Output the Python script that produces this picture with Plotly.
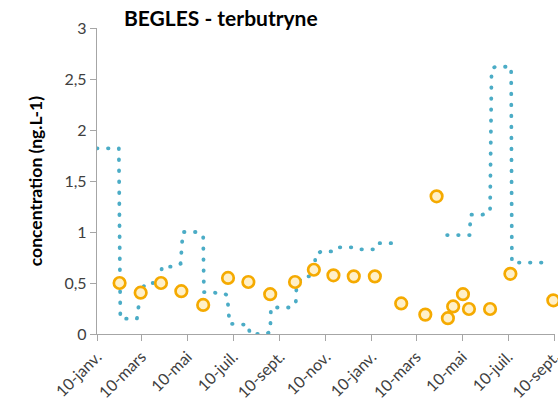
import plotly.graph_objects as go

# Continuous (time-weighted) concentration, drawn as a dotted line; None = gap
line_dates = [
    "2013-01-10", "2013-02-08", "2013-02-10", "2013-03-04", "2013-03-09", "2013-03-16",
    "2013-04-05", "2013-04-06", "2013-04-22", "2013-05-01", "2013-05-04", "2013-05-21",
    "2013-05-31", "2013-06-01", "2013-06-27", "2013-07-02", "2013-07-05", "2013-07-30",
    "2013-08-01", "2013-08-22", "2013-08-28", "2013-08-29", "2013-09-24", "2013-10-01",
    "2013-10-02", "2013-10-10", "2013-10-26", "2013-10-27", "2013-11-04", "2013-11-23",
    "2013-11-28", "2013-12-15", "2013-12-22", "2014-01-12", "2014-01-16", "2014-02-17",
    None,
    "2014-04-20", "2014-05-20", "2014-05-21", "2014-06-06", "2014-06-16", "2014-06-18",
    "2014-06-23", "2014-07-14", "2014-07-15", "2014-08-28",
]
line_values = [
    1.82, 1.82, 0.15, 0.15, 0.42, 0.50,
    0.50, 0.66, 0.66, 0.69, 1.00, 1.00,
    0.97, 0.41, 0.40, 0.38, 0.10, 0.09,
    0.00, 0.00, 0.02, 0.26, 0.26, 0.30,
    0.48, 0.565, 0.565, 0.78, 0.81, 0.81,
    0.85, 0.85, 0.83, 0.83, 0.89, 0.89,
    None,
    0.97, 0.97, 1.17, 1.17, 1.20, 2.60,
    2.62, 2.62, 0.70, 0.70,
]

# Spot (grab) samples
spot_dates = [
    "2013-02-09", "2013-03-09", "2013-04-05", "2013-05-02", "2013-05-31", "2013-07-03",
    "2013-07-30", "2013-08-28", "2013-09-30", "2013-10-25", "2013-11-20", "2013-12-17",
    "2014-01-14", "2014-02-18", "2014-03-22", "2014-04-06", "2014-04-21", "2014-04-28",
    "2014-05-11", "2014-05-19", "2014-06-16", "2014-07-13", "2014-09-08",
]
spot_values = [
    0.50, 0.405, 0.50, 0.42, 0.285, 0.55,
    0.51, 0.39, 0.51, 0.63, 0.575, 0.565,
    0.565, 0.30, 0.19, 1.35, 0.155, 0.27,
    0.39, 0.245, 0.245, 0.59, 0.33,
]

tick_dates = [
    "2013-01-10", "2013-03-10", "2013-05-10", "2013-07-10", "2013-09-10", "2013-11-10",
    "2014-01-10", "2014-03-10", "2014-05-10", "2014-07-10", "2014-09-10",
]
tick_labels = [
    "10-janv.", "10-mars", "10-mai", "10-juil.", "10-sept.", "10-nov.",
    "10-janv.", "10-mars", "10-mai", "10-juil.", "10-sept.",
]
y_ticks = [0, 0.5, 1, 1.5, 2, 2.5, 3]
y_labels = ["0", "0,5", "1", "1,5", "2", "2,5", "3"]

FONT = "Lato, 'Open Sans', sans-serif"
AXIS_GREY = "#a6a6a6"
TEXT_GREY = "#404040"

fig = go.Figure()
fig.add_trace(go.Scatter(
    x=line_dates, y=line_values, mode="lines",
    line=dict(color="#4bacc6", width=3.8, dash="0.5px,10.5px"),
    connectgaps=False, hoverinfo="skip", showlegend=False,
))
fig.add_trace(go.Scatter(
    x=spot_dates, y=spot_values, mode="markers",
    marker=dict(symbol="circle", size=11.5, color="#fff0c8",
                line=dict(color="#f5aa00", width=2.7)),
    cliponaxis=False, showlegend=False,
))

fig.update_layout(
    width=558, height=412,
    margin=dict(l=97, r=3, t=28, b=78, autoexpand=False),
    paper_bgcolor="white", plot_bgcolor="white",
    font=dict(family=FONT, size=16, color=TEXT_GREY),
    xaxis=dict(
        type="date", range=["2013-01-10", "2014-09-10 06:00"],
        tickmode="array", tickvals=tick_dates, ticktext=tick_labels,
        tickangle=-45, ticks="outside", ticklen=6, tickcolor=AXIS_GREY,
        ticklabeloverflow="allow", automargin=False,
        showline=True, linecolor=AXIS_GREY, linewidth=1.3,
        showgrid=False, zeroline=False,
        tickfont=dict(size=16, color=TEXT_GREY, family=FONT),
    ),
    yaxis=dict(
        range=[0, 3], tickmode="array", tickvals=y_ticks, ticktext=y_labels,
        ticks="outside", ticklen=6, tickcolor=AXIS_GREY, automargin=False,
        showline=True, linecolor=AXIS_GREY, linewidth=1.3,
        showgrid=False, zeroline=False,
        tickfont=dict(size=16, color=TEXT_GREY, family=FONT),
    ),
    annotations=[
        dict(text="<b>BEGLES - terbutryne</b>", xref="paper", yref="paper",
             x=0.27, y=1.035, xanchor="center", yanchor="middle", showarrow=False,
             font=dict(size=21, color="black", family=FONT)),
        dict(text="<b>concentration (ng.L-1)</b>", xref="paper", yref="paper",
             x=-0.135, y=0.50, xanchor="center", yanchor="middle", textangle=-90,
             showarrow=False, font=dict(size=17.5, color="black", family=FONT)),
    ],
)

fig.write_html(
    "out.html",
    post_script=(
        "document.querySelectorAll('.scatterlayer .js-line').forEach("
        "function(p){p.style.strokeLinecap='round';});"
    ),
)
